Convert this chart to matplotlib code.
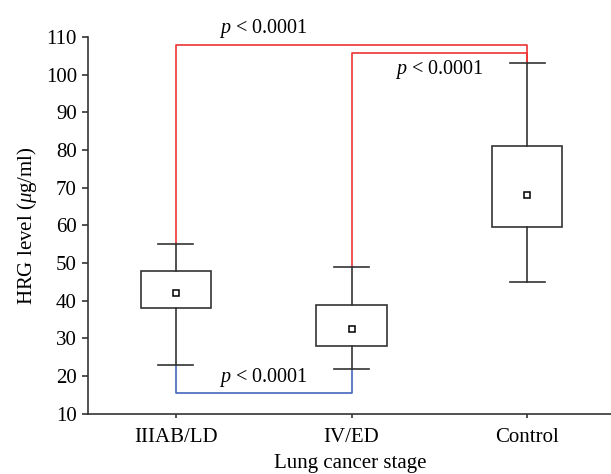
import matplotlib.pyplot as plt
from matplotlib.patches import Rectangle

plt.rcParams['font.family'] = ['Liberation Serif', 'DejaVu Serif']
plt.rcParams['mathtext.fontset'] = 'custom'
plt.rcParams['mathtext.it'] = 'Liberation Serif:italic'
plt.rcParams['mathtext.rm'] = 'Liberation Serif'

categories = ["IIIAB/LD", "IV/ED", "Control"]
whisker_low = [23, 22, 45]
q1 = [38, 28, 59.5]
means = [42, 32.5, 68]
q3 = [48, 39, 81]
whisker_high = [55, 49, 103]

# significance brackets (y level of the horizontal line)
outer_level = 108
inner_level = 105.7
low_level = 15.6
p_label = "$p$ < 0.0001"

line_col = "#333333"

fig = plt.figure(figsize=(6.11, 4.74), dpi=100)
ax = fig.add_axes([0.144, 0.127, 0.86, 0.795])

box_w = 0.4
cap_w = 0.2
for i in range(len(categories)):
    ax.add_patch(Rectangle((i - box_w / 2, q1[i]), box_w, q3[i] - q1[i],
                           fill=False, edgecolor=line_col, lw=1.2, zorder=3))
    ax.plot([i, i], [q3[i], whisker_high[i]], color=line_col, lw=1.2, zorder=3)
    ax.plot([i, i], [whisker_low[i], q1[i]], color=line_col, lw=1.2, zorder=3)
    ax.plot([i - cap_w / 2, i + cap_w / 2], [whisker_high[i]] * 2, color=line_col, lw=1.2, zorder=3)
    ax.plot([i - cap_w / 2, i + cap_w / 2], [whisker_low[i]] * 2, color=line_col, lw=1.2, zorder=3)
    ax.plot(i, means[i], marker="s", ms=4.5, mfc="white", mec="black", mew=1.1, zorder=4)

# red brackets
ax.plot([0, 0, 2, 2], [whisker_high[0], outer_level, outer_level, whisker_high[2]],
        color="#ee3333", lw=1.2, zorder=2)
ax.plot([1, 1, 2, 2], [whisker_high[1], inner_level, inner_level, whisker_high[2]],
        color="#ee3333", lw=1.2, zorder=2)
# blue bracket
ax.plot([0, 0, 1, 1], [whisker_low[0], low_level, low_level, whisker_low[1]],
        color="#4466bb", lw=1.2, zorder=2)

ax.text(0.5, outer_level + 1.3, p_label, ha="center", va="bottom", fontsize=14.5)
ax.text(1.5, inner_level - 1.4, p_label, ha="center", va="top", fontsize=14.5)
ax.text(0.5, low_level + 1.0, p_label, ha="center", va="bottom", fontsize=14.5)

ax.set_xlim(-0.5, 2.49)
ax.set_ylim(10, 110)
ax.set_yticks(range(10, 111, 10))
ax.set_xticks(range(len(categories)))
ax.set_xticklabels(categories)
ax.tick_params(axis="both", labelsize=15, color=line_col, width=1.2)
ax.tick_params(axis="y", length=4, pad=4)
ax.tick_params(axis="x", length=3, pad=7)

for s in ["top", "right"]:
    ax.spines[s].set_visible(False)
for s in ["left", "bottom"]:
    ax.spines[s].set_color(line_col)
    ax.spines[s].set_linewidth(1.2)

ax.set_ylabel("HRG level ($\\mu$g/ml)", fontsize=15, labelpad=5)
ax.set_xlabel("Lung cancer stage", fontsize=15, labelpad=5)

fig.savefig("out.png", dpi=100)
